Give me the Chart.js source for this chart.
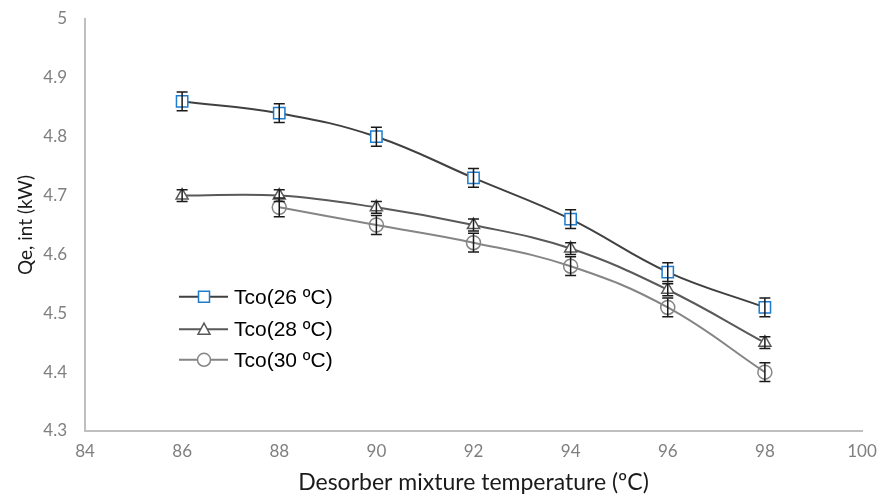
<!DOCTYPE html>
<html>
<head>
<meta charset="utf-8">
<script src="https://cdn.jsdelivr.net/npm/chart.js@4"></script>
<style>
  html, body { margin: 0; padding: 0; background: #fff; }
  #wrap { width: 883px; height: 500px; }
</style>
</head>
<body>
<div id="wrap"><canvas id="myChart" width="883" height="500"></canvas></div>
<script>
// data
const temps = [86, 88, 90, 92, 94, 96, 98];
const tco26 = [4.86, 4.84, 4.80, 4.73, 4.66, 4.57, 4.51];
const tco28 = [4.70, 4.70, 4.68, 4.65, 4.61, 4.54, 4.45];
const tco30 = [null, 4.68, 4.65, 4.62, 4.58, 4.51, 4.40];
const err26 = [0.016, 0.016, 0.016, 0.016, 0.016, 0.016, 0.016];
const err28 = [0.01, 0.01, 0.01, 0.01, 0.01, 0.01, 0.01];
const err30 = [0, 0.016, 0.016, 0.016, 0.016, 0.016, 0.016];
const seriesNames = ["Tco(26 ºC)", "Tco(28 ºC)", "Tco(30 ºC)"];

function pts(vals) {
  return temps.map((t, i) => ({ x: t, y: vals[i] })).filter(p => p.y !== null);
}

/* error bars */
const errorBars = {
  id: "errorBars",
  afterDatasetsDraw(chart) {
    const c = chart.ctx;
    const ys = chart.scales.y;
    const errs = [err26, err28, err30];
    c.save();
    c.strokeStyle = "#1a1a1a";
    c.lineWidth = 1.5;
    chart.data.datasets.forEach((ds, di) => {
      const meta = chart.getDatasetMeta(di);
      meta.data.forEach((el, j) => {
        const idx = temps.indexOf(ds.data[j].x);
        const e = errs[di][idx];
        if (!e) return;
        const x = el.x;
        const y1 = ys.getPixelForValue(ds.data[j].y + e);
        const y2 = ys.getPixelForValue(ds.data[j].y - e);
        c.beginPath();
        c.moveTo(x, y1); c.lineTo(x, y2);
        c.moveTo(x - 5.5, y1); c.lineTo(x + 5.5, y1);
        c.moveTo(x - 5.5, y2); c.lineTo(x + 5.5, y2);
        c.stroke();
      });
    });
    c.restore();
  }
};

/* legend inside plot, line through marker */
const insideLegend = {
  id: "insideLegend",
  afterDraw(chart) {
    const c = chart.ctx;
    const xs = chart.scales.x, ys = chart.scales.y;
    const x0 = xs.getPixelForValue(84) + 94;
    const rowY = [ys.getPixelForValue(4.528), ys.getPixelForValue(4.473), ys.getPixelForValue(4.421)];
    c.save();
    chart.data.datasets.forEach((ds, i) => {
      const y = rowY[i];
      c.strokeStyle = ds.borderColor;
      c.lineWidth = 2;
      c.beginPath(); c.moveTo(x0, y); c.lineTo(x0 + 49, y); c.stroke();
      c.fillStyle = "#fff";
      c.strokeStyle = ds.pointBorderColor;
      c.lineWidth = 1.5;
      const mx = x0 + 25;
      c.beginPath();
      if (ds.pointStyle === "rect") {
        c.rect(mx - 5.5, y - 5.5, 11, 11);
      } else if (ds.pointStyle === "triangle") {
        c.moveTo(mx, y - 6); c.lineTo(mx + 6, y + 5); c.lineTo(mx - 6, y + 5); c.closePath();
      } else {
        c.arc(mx, y, 6.5, 0, Math.PI * 2);
      }
      c.fill(); c.stroke();
      c.fillStyle = "#000";
      c.font = "21px 'Liberation Sans Narrow', 'Liberation Sans', sans-serif";
      c.textBaseline = "middle";
      c.fillText(seriesNames[i], x0 + 55, y + 1);
    });
    c.restore();
  }
};

const ctx = document.getElementById("myChart");

new Chart(ctx, {
  type: "line",
  data: {
    datasets: [{
      label: seriesNames[0],
      data: pts(tco26),
      borderColor: "#404040",
      borderWidth: 2,
      pointStyle: "rect",
      pointRadius: 8,
      pointBorderColor: "#1f7ccc",
      pointBackgroundColor: "#fff",
      pointBorderWidth: 1.5,
      tension: 0.4
    }, {
      label: seriesNames[1],
      data: pts(tco28),
      borderColor: "#595959",
      borderWidth: 2,
      pointStyle: "triangle",
      pointRadius: 7,
      pointBorderColor: "#595959",
      pointBackgroundColor: "#fff",
      pointBorderWidth: 1.5,
      tension: 0.4
    }, {
      label: seriesNames[2],
      data: pts(tco30),
      borderColor: "#858585",
      borderWidth: 2,
      pointStyle: "circle",
      pointRadius: 7,
      pointBorderColor: "#858585",
      pointBackgroundColor: "rgba(255,255,255,0)",
      pointBorderWidth: 1.5,
      tension: 0.4
    }]
  },
  options: {
    responsive: false,
    animation: false,
    layout: { padding: { top: 19, right: 21, left: 0, bottom: 0 } },
    plugins: { legend: { display: false }, tooltip: { enabled: false } },
    scales: {
      x: {
        type: "linear",
        min: 84, max: 100,
        ticks: { stepSize: 2, color: "#7f7f7f", font: { family: "Lato", size: 17 }, padding: 10 },
        grid: { display: false, drawTicks: false },
        border: { color: "#bfbfbf", width: 2 },
        title: { display: true, text: "Desorber mixture temperature (ºC)", color: "#1a1a1a",
                 font: { family: "Lato", size: 23 }, padding: { top: 6 } },
        afterFit(s) { s.height = 69; s.paddingLeft = 0; s.paddingRight = 0; }
      },
      y: {
        min: 4.3, max: 5,
        ticks: { stepSize: 0.1, color: "#7f7f7f", font: { family: "Lato", size: 17 }, padding: 18,
                 callback: v => Number(v.toFixed(1)).toString() },
        grid: { display: false, drawTicks: false },
        border: { color: "#bfbfbf", width: 2 },
        title: { display: true, text: "Qe, int (kW)", color: "#1a1a1a",
                 font: { family: "Lato", size: 19 }, padding: { top: 14, bottom: 4 } },
        afterFit(s) { s.width = 85; s.paddingTop = 0; s.paddingBottom = 0; }
      }
    }
  },
  plugins: [errorBars, insideLegend]
});
</script>
</body>
</html>
